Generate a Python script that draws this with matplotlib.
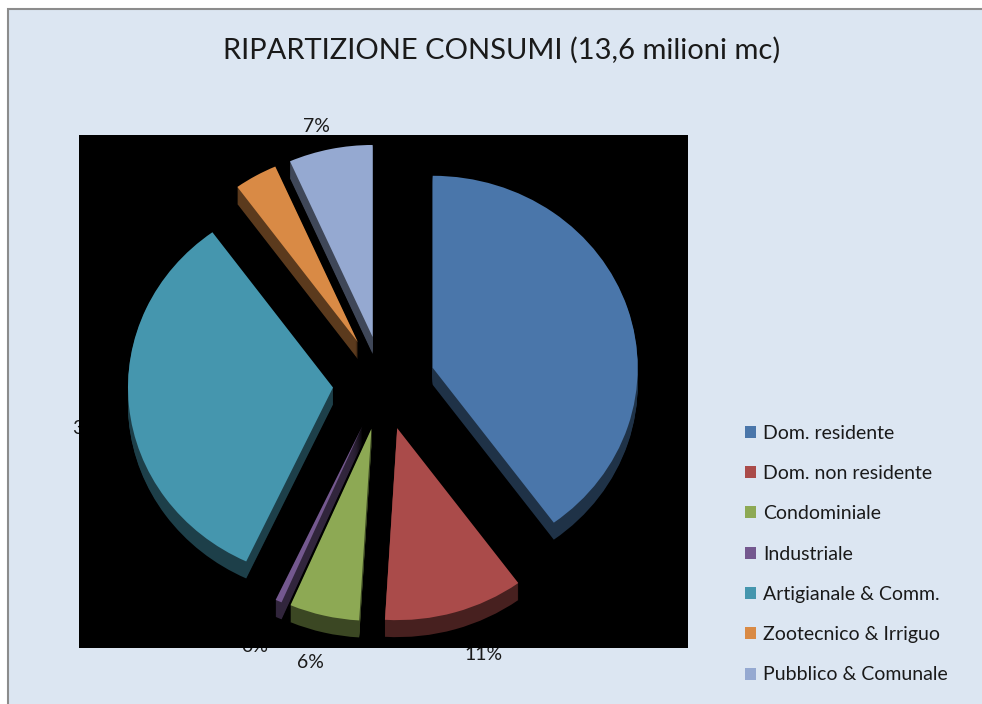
import matplotlib.pyplot as plt
from matplotlib.colors import to_rgb
from matplotlib.patches import Rectangle

W, H = 982, 704

categorie = ['Dom. residente', 'Dom. non residente', 'Condominiale', 'Industriale',
             'Artigianale & Comm.', 'Zootecnico & Irriguo', 'Pubblico & Comunale']
consumi = [39.9, 11.0, 5.5, 0.5, 33.0, 3.4, 6.6]
etichette = ['40%', '11%', '6%', '0%', '33%', '3%', '7%']
colori = ['#4a76aa', '#aa4b4a', '#8da954', '#74588f', '#4596ae', '#d98a45', '#95a9d1']

plt.rcParams['font.family'] = ['Lato', 'DejaVu Sans']


def fx(x):
    return x / W


def fy(y):
    return 1 - y / H


def scuro(c, f):
    return tuple(v * f for v in to_rgb(c))


fig = plt.figure(figsize=(W / 100, H / 100), dpi=100, facecolor='white')
fig.patches.append(Rectangle((fx(8), -0.01), fx(980), fy(9) + 0.01, transform=fig.transFigure,
                             facecolor='#dce6f2', edgecolor='#8c8c8c', linewidth=1.5, zorder=-5))

fig.text(fx(502), fy(50), 'RIPARTIZIONE CONSUMI (13,6 milioni mc)', ha='center', va='center',
         fontsize=21, color='#1a1a1a')

# labels sit under the black plot area, same as the original
pos_etichette = [(540, 400), (484, 655), (310, 662), (255, 646), (91, 428), (250, 150), (316, 127)]
for lab, (x, y) in zip(etichette, pos_etichette):
    fig.text(fx(x), fy(y), lab, ha='center', va='center', fontsize=14, color='#1a1a1a', zorder=-1)

ax = fig.add_axes([fx(79), fy(648), 609 / W, 513 / H], zorder=1)

esplodi = [0.255, 0.245, 0.245, 0.245, 0.245, 0.245, 0.245]
spessore = 17
ry = 192
for k in range(spessore, 0, -1):
    ax.pie(consumi, explode=esplodi, colors=[scuro(c, 0.42) for c in colori], startangle=90,
           counterclock=False, center=(0, -k / ry), wedgeprops={'linewidth': 0})
wedges, _ = ax.pie(consumi, explode=esplodi, colors=colori, startangle=90, counterclock=False,
                   wedgeprops={'linewidth': 0})

ax.set_aspect('auto')
ax.set_xlim((79 - 383) / 205, (688 - 383) / 205)
ax.set_ylim((383 - 648) / ry, (383 - 135) / ry)
ax.set_frame_on(True)
ax.set_facecolor('black')
ax.set_xticks([])
ax.set_yticks([])
for s in ax.spines.values():
    s.set_visible(False)

fig.legend(wedges, categorie, loc='center left', bbox_to_anchor=(fx(745), fy(554)), frameon=False,
           fontsize=14, labelcolor='#1a1a1a', handlelength=0.57, handleheight=0.57,
           handletextpad=0.38, labelspacing=1.2, borderpad=0, borderaxespad=0)

fig.savefig('out.png', dpi=100, facecolor=fig.get_facecolor())
